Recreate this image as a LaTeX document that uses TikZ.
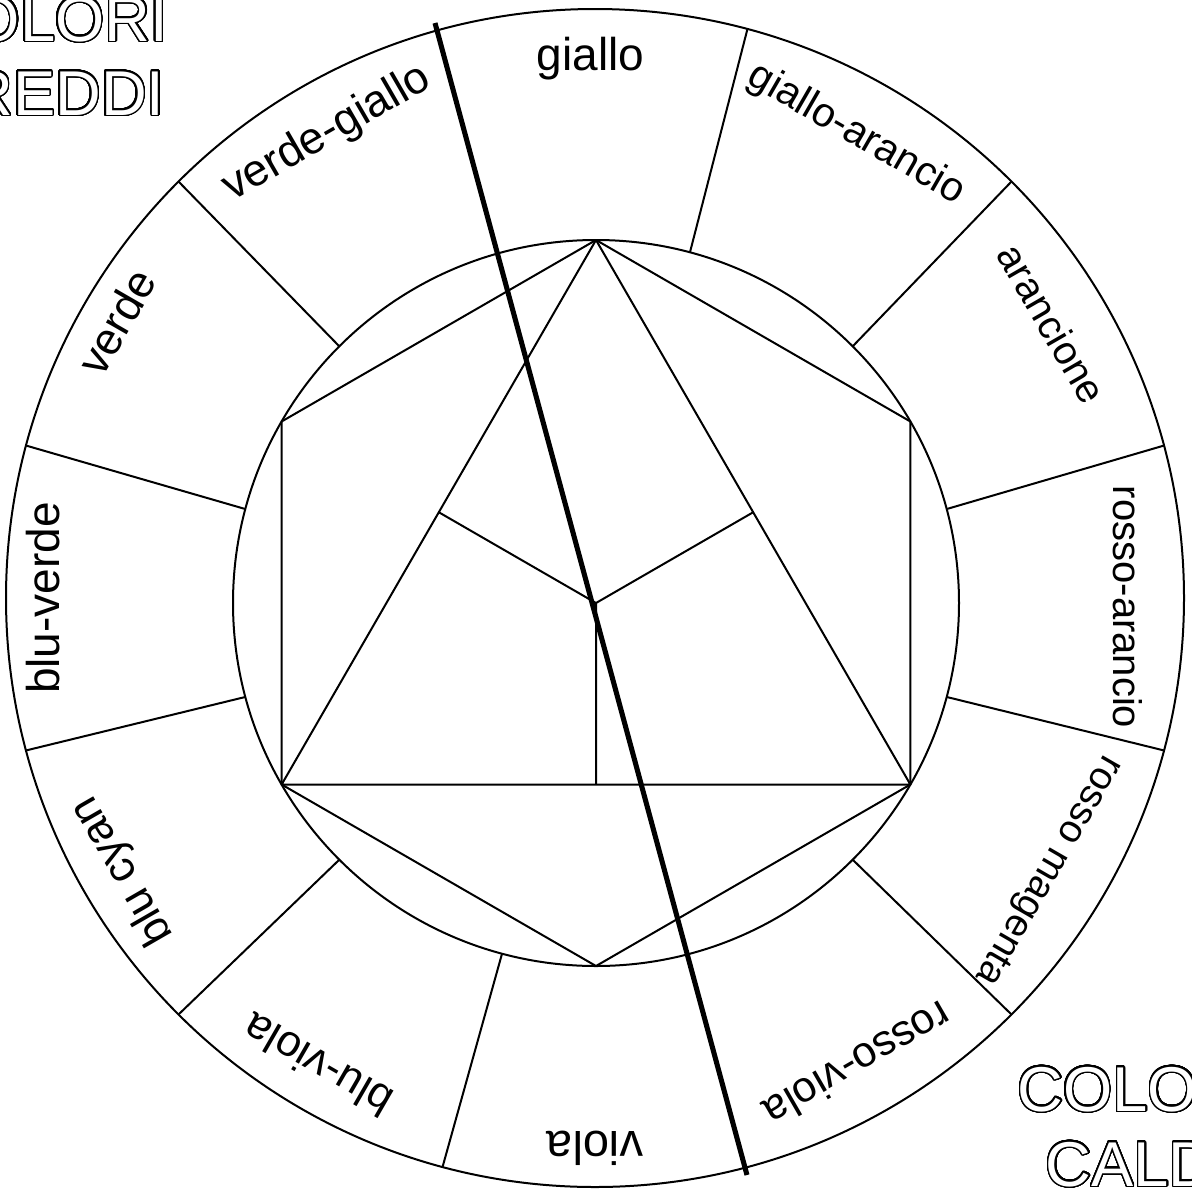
\documentclass[tikz,border=0pt]{standalone}
\usepackage{fontspec}
\setmainfont{Liberation Sans}
\usepackage{contour}
\contourlength{1.1pt}
\contournumber{48}
\usetikzlibrary{calc}
\begin{document}
\begin{tikzpicture}[x=0.75pt,y=0.75pt,
  ring/.style={line width=1.5pt, line join=round},
  divider/.style={line width=3.8pt},
  lab/.style={inner sep=0pt, anchor=base},
  corner/.style={inner sep=0pt, anchor=base, font=\fontsize{47.5}{47.5}\selectfont}
]
\useasboundingbox (0,0) rectangle (1192,-1193);
\clip (0,0) rectangle (1192,-1193);
\fill[white] (0,0) rectangle (1192,-1193);
\coordinate (O) at (595,-598);
\coordinate (I) at (596,-603);
% circles
\draw[ring] (O) circle[radius=441.75pt];
\draw[ring] (I) circle[radius=272.25pt];
% segment boundaries
\foreach \a in {15,45,75,135,165,195,225,255,315,345}
  \draw[ring] ($(I)+(\a:363)$) -- ($(O)+(\a:589)$);
% hexagon and triangle
\foreach \i/\a in {1/90,2/150,3/210,4/270,5/330,6/30}
  \coordinate (H\i) at ($(I)+(\a:363)$);
\draw[ring] (H1)--(H2)--(H3)--(H4)--(H5)--(H6)--cycle;
\draw[ring] (H1)--(H3)--(H5)--cycle;
\coordinate (M1) at ($(H1)!0.5!(H3)$);
\coordinate (M2) at ($(H1)!0.5!(H5)$);
\coordinate (M3) at ($(H3)!0.5!(H5)$);
\draw[ring] (I)--(M1) (I)--(M2) (I)--(M3);
% thick dividing line
\coordinate (T1) at (435,-23);
\coordinate (T2) at (747,-1175);
\draw[divider] (T1)--(T2);
% labels (baseline placed at radius r - 0.255em)
\foreach \n/\p/\r/\s/\rot/\t in {
  a/90.5/539/34.5/0/giallo,
  b/60.6/532/30.75/-30/giallo-arancio,
  c/31/529/30/-60/arancione,
  d/-1/529/30/-90/rosso-arancio,
  e/-31/529/29.25/-120/rosso magenta,
  f/-60.6/531/32.25/-150/rosso-viola,
  g/-90/545/35.25/180/viola,
  h/-120.7/539/33/150/blu-viola,
  i/-150/545/33/120/blu cyan,
  j/180/547/34.5/90/blu-verde,
  k/150/548/33.75/60/verde,
  l/120/536/33.75/30/verde-giallo}
  \node[lab, font=\fontsize{\s}{\s}\selectfont, rotate=\rot] (L\n) at ($(O)+(\p:{\r-0.34*\s})$) {\t};
% corner texts
\node[corner] (cold1) at (46.5,-41) {\color{white}\contour{black}{COLORI}};
\node[corner] (cold2) at (46.5,-115) {\color{white}\contour{black}{FREDDI}};
\node[corner] (warm1) at (1139,-1111) {\color{white}\contour{black}{COLORI}};
\node[corner] (warm2) at (1139,-1186) {\color{white}\contour{black}{CALDI}};
\end{tikzpicture}
\end{document}
